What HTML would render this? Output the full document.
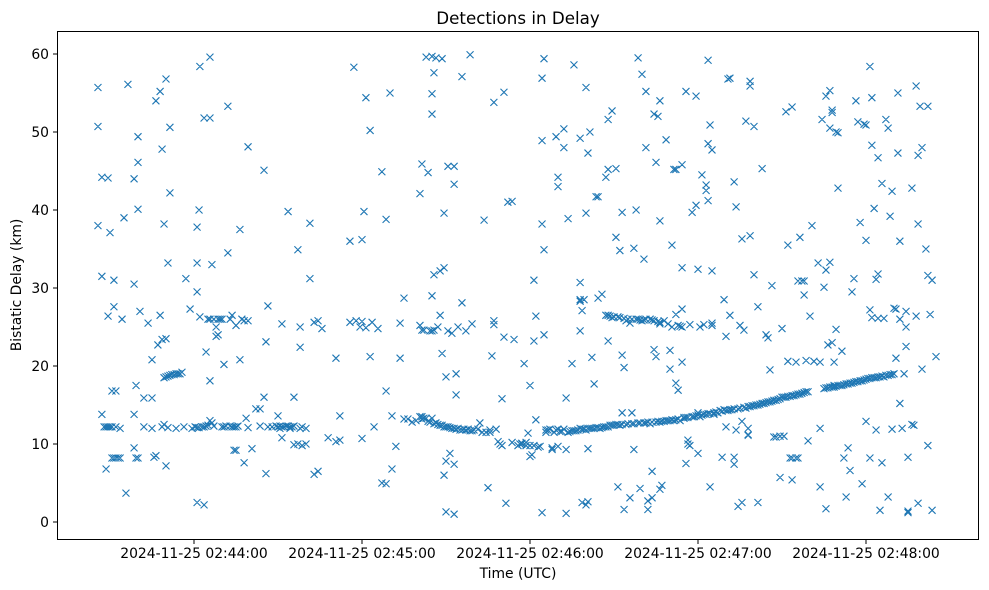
<!DOCTYPE html>
<html><head><meta charset="utf-8"><style>
body{margin:0;background:#fff;}
svg{display:block;font-family:"DejaVu Sans","Liberation Sans",sans-serif;}
</style></head><body>
<svg id="chart" width="989" height="590" xmlns="http://www.w3.org/2000/svg">
<text x="518" y="24" text-anchor="middle" font-size="16.7">Detections in Delay</text>
<text x="518" y="578" text-anchor="middle" font-size="13.9">Time (UTC)</text>
<text transform="translate(21,285) rotate(-90)" text-anchor="middle" font-size="13.9">Bistatic Delay (km)</text>
<g id="ticks"></g>
<g id="marks"></g>
<rect x="57.5" y="31.5" width="921" height="508" fill="none" stroke="#000" stroke-width="1"/>
</svg>
<script>
// seconds after 2024-11-25 02:43:00 UTC
const times = [25.7,27.1,27.9,28.6,29.3,30,30.7,31.4,32.1,32.9,33.6,34.3,35,35.7,36.4,38.6,39.3,40,40.7,42.1,43.6,45,45.7,46.4,47.1,47.9,48.6,49.3,50,50.7,51.4,52.1,52.9,53.6,54.3,55,55.7,56.4,57.1,58.6,59.3,60.4,61.1,61.8,62.1,62.9,63.6,64.3,65,65.7,66.4,67.1,67.9,68.6,69.3,70,70.7,71.4,72.1,72.9,73.6,74.3,75,75.7,76.4,77.1,77.9,78.6,79.3,80.7,82.1,83.6,85,85.7,86.4,87.9,89.3,90,90.7,91.4,92.1,92.9,93.6,94.3,95,95.7,97.1,97.9,98.6,100,101.4,102.9,104.3,105.7,107.9,110.7,112.1,115.7,117.1,117.9,119.3,120,120.7,121.4,122.9,123.6,124.3,125.7,127.1,128.6,130,130.7,132.1,133.6,135,136.4,137.9,139.3,140.7,141.4,142.1,142.9,143.6,144.3,145,145.7,146.4,147.1,147.9,148.6,149.3,150,150.7,151.4,152.1,152.9,153.6,154.3,155,155.7,156.4,157.1,157.9,158.6,159.3,160,161.4,162.1,162.9,163.6,164.3,165,165.7,166.4,167.1,167.9,168.6,169.3,170,170.7,171.4,172.1,173.6,174.3,175.7,176.4,177.1,177.9,178.6,179.3,180,180.7,181.4,182.1,182.9,183.6,184.3,185,185.7,186.4,187.1,187.9,188.6,189.3,190,190.7,191.4,192.1,192.9,193.6,194.3,195,195.7,196.4,197.1,197.9,198.6,199.3,200,200.7,201.4,202.1,202.9,203.6,204.3,205,205.7,206.4,207.1,207.9,208.6,209.3,210,210.7,211.4,212.1,212.9,213.6,214.3,215,215.7,216.4,217.1,217.9,218.6,219.3,220,220.7,221.4,222.1,222.9,223.6,224.3,225,225.7,226.4,227.1,227.9,228.6,229.3,230,230.7,231.4,232.1,232.9,233.6,234.3,235,235.7,236.4,237.1,237.9,238.6,239.3,240,240.7,241.4,242.1,242.9,243.6,244.3,245,245.7,246.4,247.1,247.9,248.6,249.3,250,250.7,251.4,252.1,252.9,253.6,254.3,255,255.7,256.4,257.1,257.9,258.6,259.3,260,260.7,261.4,262.1,262.9,263.6,264.3,265,265.7,266.4,267.1,267.9,268.6,269.3,270,270.7,271.4,272.1,272.9,273.6,274.3,275,275.7,276.4,277.1,277.9,278.6,279.3,280,280.7,281.4,282.9,283.6,284.3,285,285.7,286.4,287.1,287.9,288.6,289.3,290,290.7,291.4,292.1,292.9,293.6,294.3,295,295.7,296.4,297.1,297.9,298.6,299.3,300,300.7,301.4,302.1,302.9,303.6,304.3,305,305.7,306.4,307.1,307.9,308.6,309.3,310,310.7,311.4,312.1,312.9,313.6,314.3,315,316.4,317.1,317.9,318.6,319.3,320,321.4,322.1,322.9,323.6,325];
const delays = [[55.7,50.7,38],[44.2,31.5,13.8],[12.2],[6.8,12.2],[44.1,12.2,26.4],[37.1,12.2],[16.8,12.2,8.2],[31,8.2,27.6],[12.2,8.2,16.8],[8.2],[8.2,12],[26],[39],[3.7],[56.1],[44,30.5,13.8,9.5],[8.2,17.5],[49.4,46.1,40.1,8.2],[27],[12.2,15.9],[25.5],[20.8,15.9,12],[8.3],[54,8.5],[22.7],[55.2,26.5],[47.8,23.4,12.2],[38.2,18.5,12.5],[56.8,23.5,7.2,18.6],[33.2,12.1,18.7],[50.6,42.2,18.8],[18.9],[18.9],[12,19],[19],[19],[19.2],[12.2],[31.2],[27.3],[12],[12.2],[37.8,2.5,33.2,29.5,12.1],[40,12.1],[58.4,26.3],[12.2],[51.8,2.2,12.2],[12.3,21.8],[26,12.4],[59.6,51.8,18.1,26,13],[33,12.7],[26,12.3],[25,23.8],[24,26],[26],[26,12.2],[20.2,12.2],[12.3],[53.3,34.5],[12.3,26],[26.5,12.2],[12.2,9.2],[12.2,25.2,9.2],[12.3],[37.5,20.8],[26],[7.6,25.8],[13.3],[48.1,25.8,12.1],[9.4],[14.5],[14.5,12.3],[45.1,16],[23.1,6.2],[27.7,12.2],[12.2],[12.3],[13.6,12.2],[12,12.3],[25.4,10.8,12.2],[12.2],[12.3],[39.8,12.3],[12.2,12],[12.2],[16,9.9,12.3],[34.9,10],[22.4,25,12],[9.8,12.2],[10,12],[38.3,31.2],[25.6,6.1],[25.8,6.5],[24.8],[10.8],[21,10.3],[13.6,10.5],[36,25.6],[58.3],[25.8],[25],[10.7,36.2,25.7],[39.8],[54.4,24.9],[50.2,21.2],[25.6],[12.2],[24.8],[44.9,5],[38.8,4.9,16.8],[55],[13.6,6.8],[9.7],[21,25.5],[28.7,13.2],[13.2],[12.8],[13],[42.1,13.5,25.2],[45.9,24.6,13.5,13.2],[24.6,13.3],[59.6,13.3],[44.8,12.9],[12.8,24.5],[54.9,52.3,29,59.7,13.3,24.5],[57.6,31.7,24.6,12.6],[59.5,12.7],[25,12.5],[32.2,26.5,12.4],[59.4,21.6,12.4],[39.6,6,12.2,32.6],[1.3,18.6,7.8,12.2],[12.2,45.6,24.5],[8.8,12.1],[24.2,12],[43.3,45.6,1,7.4,12],[16.3,19,11.9],[12,25],[11.8],[57.1,28.1,11.8],[11.9],[24.5,11.8],[11.9],[59.9,11.7],[25.4,11.7],[11.8],[11.9],[12.7],[11.5],[38.7],[11.5],[4.4],[11.8,11.5],[21.3],[25.8,53.8,25.3],[11.9],[10.3],[10],[9.8,15.8],[55.1,23.7],[2.4],[41],[41.1,10.2],[23.4],[9.8],[10],[10,10.1],[20.3],[10.2,9.8],[11.4],[8.4,17.5,9.8],[8.6],[31,9.8,23.2],[26.4,13.1],[9.6],[9.7],[38.2,56.9,48.9,1.2],[24,59.4,34.9],[11.8,11.5],[11.8],[11.9],[9.5,9.3],[11.5],[11.8,49.4],[43,11.9,9.7,44.2],[11.6],[11.6],[11.9,48,50.4],[15.9,9.3,1.1],[11.5,38.9],[11.6],[11.7,20.3],[58.6,11.7],[11.7],[11.8],[30.7,24.5,49.2,12,28.5,28.3],[27.1,2.5,11.9],[28.5,11.9],[39.6,55.7,11.8,2.2],[47.3,9.4,2.6,12],[50,12],[21.1,12],[12,17.7],[41.7,12.1],[28.7,41.7,12.1],[12],[29.2,12.1],[12.2],[44.2,26.5,12.2],[51.6,45.2,12.2,23.2,26.5],[12.4,26.4],[52.7,26.2,12.4],[26.3,12.4],[45.3,36.5,12.5],[4.5,26.3,12.5],[12.4,34.8,26.2],[21.4,39.7,14,12.5],[19.8,1.6,26.1],[25.8,12.5],[26,12.6],[25.5,3.1],[12.6,14,26],[35.1,9.3,12.6],[26,40],[59.5,26,12.7],[12.7,4.3,25.9],[57.4,25.8],[33.7,12.7,25.9],[55.2,48,26,12.7],[2.7,1.6,12.8],[12.6,26],[25.9,3.1,6.5,12.8],[52.3,22.1,25.8],[46.1,21.2,12.8],[25.7,52,12.9],[54,25.4,38.6,4.2,12.8,25.6],[4.7,12.9],[25.8,12.9],[49,13],[13,25.4],[22,19.6,13],[25,35.5,13.1],[45.2,13],[45.2,26.6,17.8,13.1],[25.2,13.2,16.9],[13,25.1],[32.6,20.5,27.3,45.8,25],[13.3,13.4],[7.5,55.2,13.4],[10,10.5,13.4],[9.8,25.3],[39.7,13.5],[13.5],[54.6,40.6,13.6],[32.4,8.8,13.7,14],[13.5,25],[44.5,13.7],[25.3,13.8],[42.5,43.2,13.8],[59.2,48.5,41.2,13.9],[50.9,4.5,13.9],[47.7,32.2,25.5,25.2],[14,13.8],[14.1],[14],[14.3],[8.3,14.2],[28.5,14.4],[23.8,12.2,14.3],[56.8,14.3],[56.9,26.5,14.4],[14.4],[43.6,8.3,7.4,14.5],[11.8,40.4],[14.5,2],[25.2,14.6],[12.9,36.3,2.5],[24.6,14.7],[51.4,14.6],[12,11.1,11.2,14.8],[36.7,56.5,55.9,14.8],[14.9],[50.7,31.7,14.9],[15],[2.5,27.6,15],[15.1],[45.3,15.2],[15.2],[24,15.3],[23.6,15.4],[19.5,15.4],[30.3,15.5],[10.9,15.6],[15.6,10.9],[15.7],[11,5.7,15.8],[24.8,16],[11,16],[52.6,16],[20.6,35.5,16.1],[16.1,8.2],[53.2,5.4,8.2,16.2],[16.2],[8.2,20.5,16.3],[30.9,8.2,16.4],[36.5,16.4],[30.9,16.5],[30.9,29.1,16.6],[16.7,20.7],[10.4,16.7],[26.4],[38],[20.6],[33.2],[12,20.5,4.5],[51.6],[30.1,17.1],[54.6,32.3,1.7,17.2],[22.7,17.2],[55.3,50.5,33.3,17.3],[52.5,52.8,23,17.3],[17.5,17.3,20.5],[50,17.4,24.7],[42.8,49.9,17.5],[17.5],[21.9,17.5],[17.6,8.2],[3.2,17.7],[9.5,17.7],[17.8,6.6],[29.5,17.8],[17.9,31.2],[18,54],[51.3,18],[38.4,18.1],[4.9,18.1],[51,18.2],[36.1,12.9,50.9,18.3],[18.4],[58.4,27.2,8.2,18.4],[48.3,54.4,26.2,18.5],[40.2,18.5],[31.1,18.5,11.8],[26.1,31.8,46.7,18.6],[1.5,18.6],[43.4,7.6,18.7],[18.6,26.1],[51.6,18.8],[50.5,3.2,18.8],[39.2,18.9],[42.4,11.9,18.9],[27.4,19],[27.3,21],[55,47.3],[36,15.2,26],[12],[19],[27,22.5,25],[1.2,1.4,8.3],[42.8,12.5],[12.4],[55.9,26.4],[47,38.2,2.4],[53.3],[48,19.6],[35],[53.3,31.6,9.8],[26.6],[31,1.5],[21.2]];
const yTicks = [0,10,20,30,40,50,60];
const xTickTimes = [60,120,180,240,300];
const xTickLabels = ["2024-11-25 02:44:00","2024-11-25 02:45:00","2024-11-25 02:46:00","2024-11-25 02:47:00","2024-11-25 02:48:00"];

const NS = "http://www.w3.org/2000/svg";
function xScale(t){ return 26 + 2.8*t; }
function yScale(v){ return 522 - 7.8*v; }

const ticks = document.getElementById('ticks');
yTicks.forEach(v=>{
  const y = yScale(v);
  const l = document.createElementNS(NS,'line');
  
  
  l.setAttribute('x1',53); l.setAttribute('x2',57.5);
  l.setAttribute('y1',y); l.setAttribute('y2',y);
  l.setAttribute('stroke','#000');
  ticks.appendChild(l);
  const t = document.createElementNS(NS,'text');
  
  
  t.setAttribute('x',49); t.setAttribute('y',y+5);
  t.setAttribute('text-anchor','end'); t.setAttribute('font-size','13.9');
  t.textContent = v;
  ticks.appendChild(t);
});
xTickTimes.forEach((tt,i)=>{
  const x = xScale(tt);
  const l = document.createElementNS(NS,'line');
  
  
  l.setAttribute('x1',x); l.setAttribute('x2',x);
  l.setAttribute('y1',539.5); l.setAttribute('y2',544);
  l.setAttribute('stroke','#000');
  ticks.appendChild(l);
  const t = document.createElementNS(NS,'text');
  
  
  t.setAttribute('x',x); t.setAttribute('y',558);
  t.setAttribute('text-anchor','middle'); t.setAttribute('font-size','13.9');
  t.textContent = xTickLabels[i];
  ticks.appendChild(t);
});

const marks = document.getElementById('marks');
let d = "";
times.forEach((tt,i)=>{
  const x = xScale(tt);
  delays[i].forEach(v=>{
    const y = yScale(v);
    d += `M${x-3.5},${y-3.5}L${x+3.5},${y+3.5}M${x-3.5},${y+3.5}L${x+3.5},${y-3.5}`;
  });
});
const p = document.createElementNS(NS,'path');


p.setAttribute('d',d);
p.setAttribute('stroke','#1f77b4');
p.setAttribute('stroke-width','1.1');
p.setAttribute('fill','none');
marks.appendChild(p);
</script>
</body></html>
